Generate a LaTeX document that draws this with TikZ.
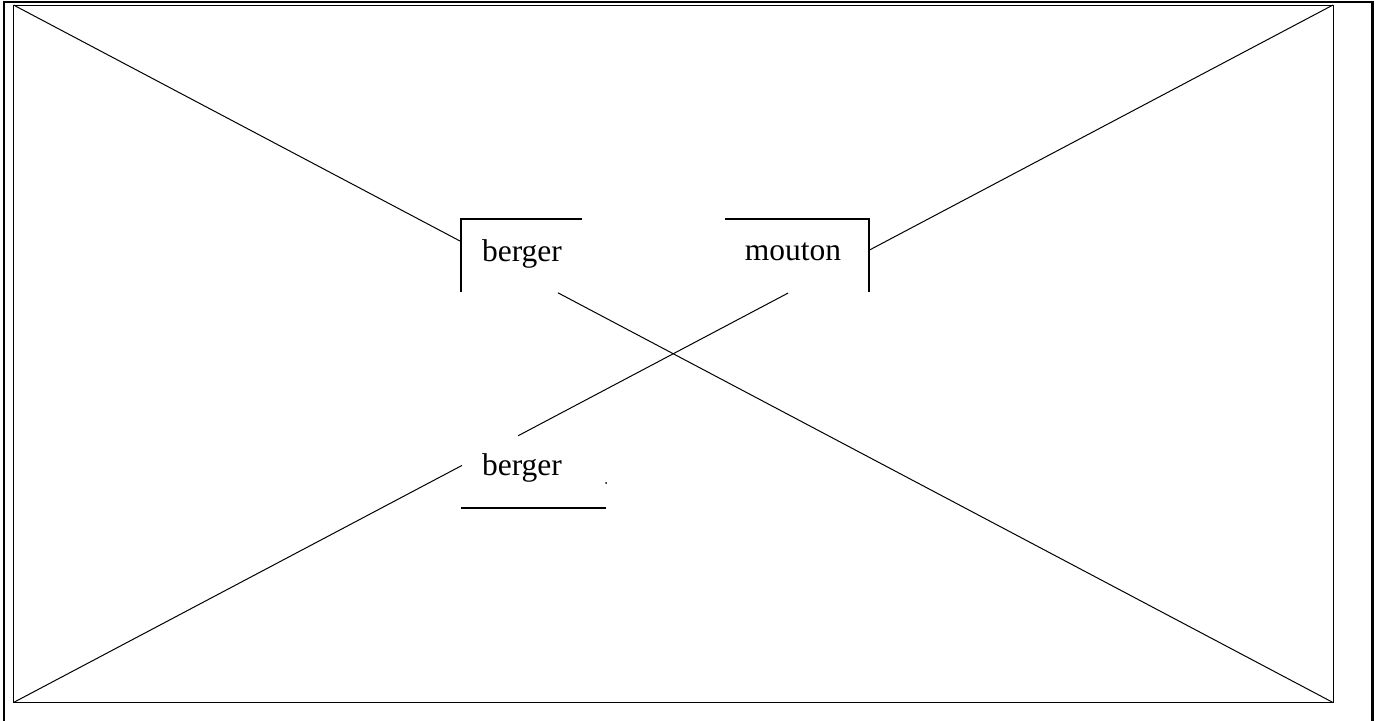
\documentclass[tikz,border=0pt]{standalone}
\usepackage{fontspec}
\setmainfont{Liberation Serif}
\usetikzlibrary{calc}
\begin{document}
\begin{tikzpicture}[x=1pt, y=-1pt,
		word/.style={font=\fontsize{31.5}{36}\selectfont, inner sep=0pt, anchor=base},
		frame/.style={line width=2.7pt},
		bracket/.style={line width=2pt},
		cross/.style={line width=1pt}]
		\useasboundingbox (0,0) rectangle (1380,720);
		% outer frame, open at the bottom
		\draw[frame] (4,730) -- (4,2) -- (1372.5,2) -- (1372.5,730);
		% inner rectangle
		\coordinate (tl) at (13.5,5);
		\coordinate (br) at (1333,702.5);
		\coordinate (bl) at (13.5,702.5);
		\coordinate (tr) at (1333,5);
		\draw[cross] (tl) rectangle (br);
		% the words
		\node[word] (berger) at (522,261) {berger};
		\node[word] (mouton) at (793,260) {mouton};
		\node[word] (bergerb) at (522,475) {berger};
		% the brackets
		\draw[bracket] (461,292) -- (461,219) -- (582,219);
		\draw[bracket] (725,219) -- (869,219) -- (869,292);
		\draw[bracket] (461,508) -- (606,508);
		\fill (606,483) circle (1pt);
		% the first diagonal, cut by berger
		\coordinate (d1a) at ($(tl)!0.3384!(br)$);
		\coordinate (d1b) at ($(tl)!0.4126!(br)$);
		\draw[cross] (tl) -- (d1a);
		\draw[cross] (d1b) -- (br);
		% the second diagonal, cut by berger and mouton
		\coordinate (d2a) at ($(bl)!0.3399!(tr)$);
		\coordinate (d2b) at ($(bl)!0.3824!(tr)$);
		\coordinate (d2c) at ($(bl)!0.5870!(tr)$);
		\coordinate (d2d) at ($(bl)!0.6491!(tr)$);
		\draw[cross] (bl) -- (d2a);
		\draw[cross] (d2b) -- (d2c);
		\draw[cross] (d2d) -- (tr);
	\end{tikzpicture}
\end{document}
